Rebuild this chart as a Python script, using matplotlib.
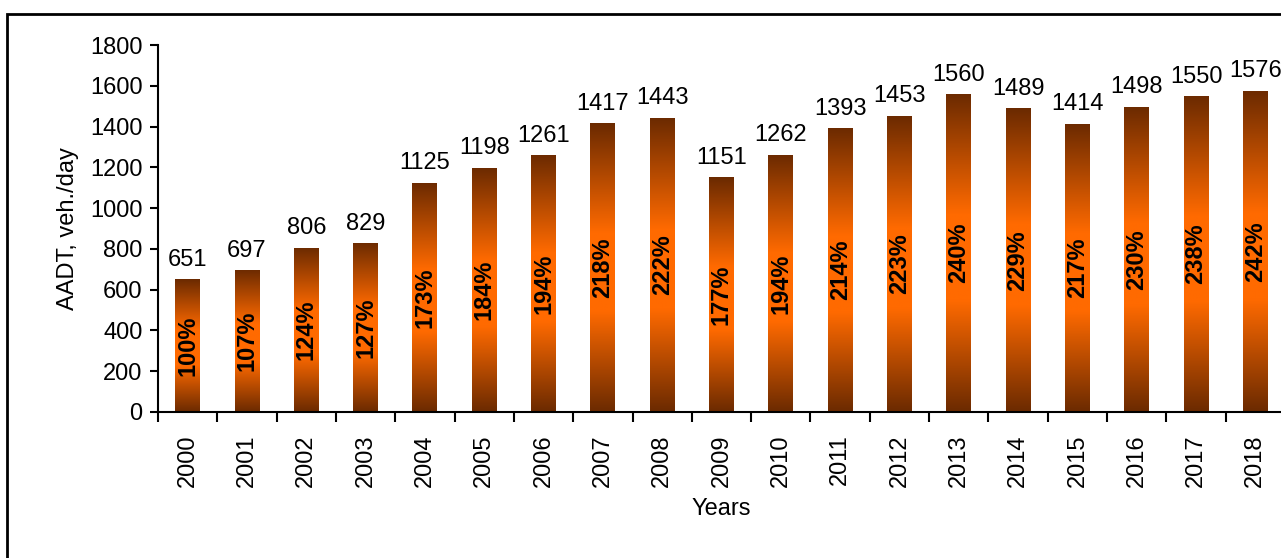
import numpy as np
import matplotlib.pyplot as plt
from matplotlib.colors import LinearSegmentedColormap
from matplotlib.patches import Rectangle

plt.rcParams['font.family'] = ['Liberation Sans', 'DejaVu Sans']

years = [str(y) for y in range(2000, 2019)]
aadt = [651, 697, 806, 829, 1125, 1198, 1261, 1417, 1443, 1151,
        1262, 1393, 1453, 1560, 1489, 1414, 1498, 1550, 1576]
pct = ["100%", "107%", "124%", "127%", "173%", "184%", "194%", "218%", "222%", "177%",
       "194%", "214%", "223%", "240%", "229%", "217%", "230%", "238%", "242%"]

fig = plt.figure(figsize=(12.81, 5.58), dpi=100)
ax = fig.add_axes([158 / 1281, 1 - 412 / 558, 1127 / 1281, 367 / 558])

# outer frame (right/bottom edges fall outside the image)
fig.add_artist(Rectangle((7 / 1281, -0.1), 1.2, 1 - 14 / 558 + 0.1, transform=fig.transFigure,
                         fill=False, lw=2, ec='black'))

cmap = LinearSegmentedColormap.from_list(
    'brown', [(0, '#6b2a00'), (0.35, '#ff6a00'), (0.62, '#ff6a00'), (1, '#6b2a00')])
grad = np.linspace(0, 1, 256).reshape(-1, 1)
x = np.arange(len(years))
w = 0.42
bars = ax.bar(x, aadt, width=w, color='none', edgecolor='none')
for b, v, p in zip(bars, aadt, pct):
    bx = b.get_x()
    im = ax.imshow(grad, cmap=cmap, aspect='auto', extent=[bx, bx + w, 0, v],
                   origin='lower', zorder=2)
    im.set_clip_path(b)
    ax.annotate(str(v), (bx + w / 2, v), xytext=(0, 6), textcoords='offset points',
                ha='center', va='bottom', fontsize=17)
    ax.text(bx + w / 2, v / 2, p, rotation=90, ha='center', va='center',
            fontsize=17, fontweight='bold', zorder=3)

ax.set_xlim(-0.5, len(years) - 0.5)
ax.set_ylim(0, 1800)
ax.set_yticks(range(0, 1801, 200))
ax.set_xticks(x)
ax.set_xticklabels(years, rotation=90, fontsize=17)
ax.set_xticks(np.arange(-0.5, len(years), 1), minor=True)
ax.tick_params(axis='x', which='major', length=0, pad=16)
ax.tick_params(axis='x', which='minor', length=7, width=1.5, direction='out')
ax.tick_params(axis='y', labelsize=17, length=6, width=1.5, pad=5)
for s in ['top', 'right']:
    ax.spines[s].set_visible(False)
for s in ['left', 'bottom']:
    ax.spines[s].set_linewidth(1.5)
ax.set_ylabel('AADT, veh./day', fontsize=17, labelpad=8)
ax.set_xlabel('Years', fontsize=17, labelpad=8)

fig.savefig('out.png', dpi=100)
